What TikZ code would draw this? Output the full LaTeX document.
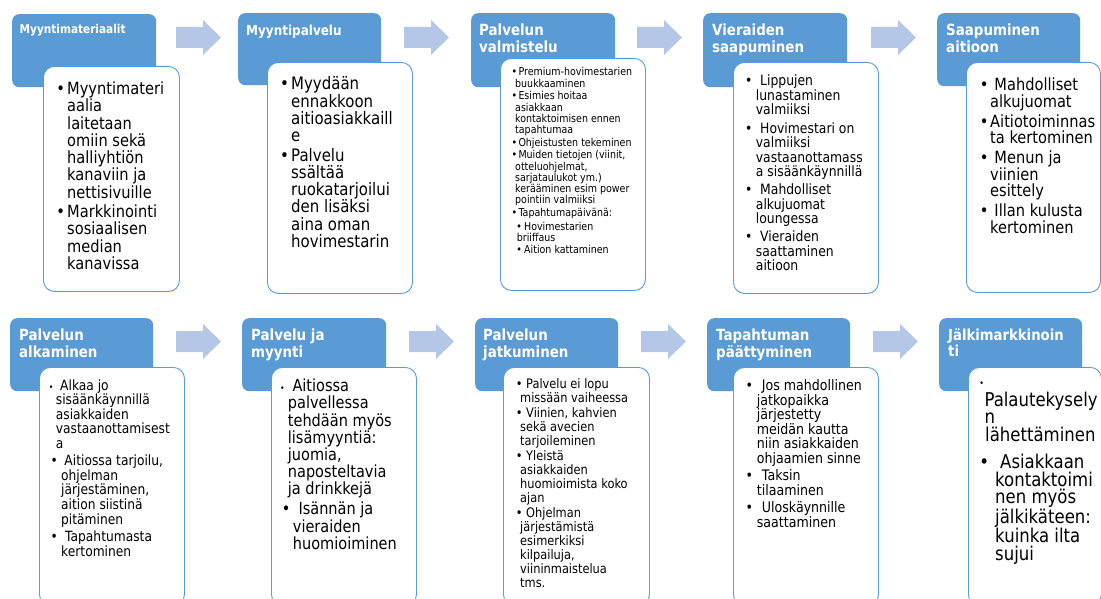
\documentclass[tikz,border=0pt]{standalone}
\usepackage{fontspec}
\setmainfont{DejaVu Sans}[FakeStretch=0.87]
\definecolor{hdrblue}{HTML}{5B9BD5}
\definecolor{arrblue}{HTML}{B4C7E7}
\definecolor{bdrblue}{HTML}{5B9BD5}
\newcommand\fsz[2]{\fontsize{#1pt}{#2pt}\selectfont}
\newcommand\blk[2]{\begin{minipage}[t]{#1pt}\raggedright #2\end{minipage}}
\newcommand\bu[1]{\makebox[#1pt][l]{•}}
\newcommand\bsm[1]{\makebox[#1pt][l]{\fontsize{9pt}{9pt}\selectfont •}}
\newcommand\ind[1]{\hspace*{#1pt}}
\tikzset{
  hdrbox/.style={rectangle, fill=hdrblue, rounded corners=7pt, inner sep=0pt, anchor=north west},
  bodybox/.style={rectangle, fill=white, draw=bdrblue, line width=0.9pt, rounded corners=11pt, inner sep=0pt, anchor=north west},
  htxt/.style={anchor=base west, inner sep=0pt, text=white, font=\bfseries},
  btxt/.style={anchor=base west, inner sep=0pt, text=black},
  blockarrow/.pic={\fill[arrblue] (0,-10.5) -- (27,-10.5) -- (27,-17.5) -- (45,0) -- (27,17.5) -- (27,10.5) -- (0,10.5) -- cycle;}
}
\begin{document}
\begin{tikzpicture}[x=1pt,y=-1pt]
\useasboundingbox (0,0) rectangle (1101,599);
\clip (0,0) rectangle (1101,599);
\fill[white] (0,0) rectangle (1101,599);
% ---------- top row ----------
\node[hdrbox, minimum width=144pt, minimum height=73pt] (h1) at (12,14) {};
\node[hdrbox, minimum width=143pt, minimum height=72pt] (h2) at (238,13) {};
\node[hdrbox, minimum width=144pt, minimum height=74pt] (h3) at (471,13) {};
\node[hdrbox, minimum width=144pt, minimum height=74pt] (h4) at (703,13) {};
\node[hdrbox, minimum width=143pt, minimum height=73pt] (h5) at (937,13) {};
\node[bodybox, minimum width=136pt, minimum height=225pt] (b1) at (43,66) {};
\node[bodybox, minimum width=145pt, minimum height=231pt] (b2) at (267,62) {};
\node[bodybox, minimum width=145pt, minimum height=232pt] (b3) at (500,58) {};
\node[bodybox, minimum width=145pt, minimum height=231pt] (b4) at (733,62) {};
\node[bodybox, minimum width=134pt, minimum height=230pt] (b5) at (966,62) {};
\pic at (176,37.5) {blockarrow};
\pic at (404,37.5) {blockarrow};
\pic at (637,37.5) {blockarrow};
\pic at (871,37.5) {blockarrow};
% ---------- bottom row ----------
\node[hdrbox, minimum width=143pt, minimum height=73pt] (h6) at (10,318) {};
\node[hdrbox, minimum width=144pt, minimum height=73pt] (h7) at (242,318) {};
\node[hdrbox, minimum width=143pt, minimum height=73pt] (h8) at (475,318) {};
\node[hdrbox, minimum width=143pt, minimum height=73pt] (h9) at (707,318) {};
\node[hdrbox, minimum width=143pt, minimum height=73pt] (h10) at (939,318) {};
\node[bodybox, minimum width=145pt, minimum height=238pt] (b6) at (39,367) {};
\node[bodybox, minimum width=145pt, minimum height=238pt] (b7) at (271,367) {};
\node[bodybox, minimum width=146pt, minimum height=238pt] (b8) at (503,367) {};
\node[bodybox, minimum width=145pt, minimum height=238pt] (b9) at (733,367) {};
\node[bodybox, minimum width=133pt, minimum height=238pt] (b10) at (968,367) {};
\pic at (176,341.5) {blockarrow};
\pic at (409,341.5) {blockarrow};
\pic at (641,341.5) {blockarrow};
\pic at (873,341.5) {blockarrow};
% ---------- header texts ----------
\node[htxt] (ht1) at (19.5,33.5) {\fsz{12.1}{14}\blk{140}{Myyntimateriaalit}};
\node[htxt] (ht2) at (246,35.5) {\fsz{13.8}{16}\blk{140}{Myyntipalvelu}};
\node[htxt] (ht3) at (479,35.7) {\fsz{15.4}{16.7}\blk{140}{Palvelun\\valmistelu}};
\node[htxt] (ht4) at (712,35.7) {\fsz{15.4}{16.7}\blk{140}{Vieraiden\\saapuminen}};
\node[htxt] (ht5) at (946,35.7) {\fsz{15.4}{16.7}\blk{140}{Saapuminen\\aitioon}};
\node[htxt] (ht6) at (19,340.7) {\fsz{15.4}{16.5}\blk{140}{Palvelun\\alkaminen}};
\node[htxt] (ht7) at (251,340.7) {\fsz{15.4}{16.5}\blk{140}{Palvelu ja\\myynti}};
\node[htxt] (ht8) at (483,340.5) {\fsz{15.4}{16.5}\blk{140}{Palvelun\\jatkuminen}};
\node[htxt] (ht9) at (716,340.5) {\fsz{15.4}{16.5}\blk{140}{Tapahtuman\\päättyminen}};
\node[htxt] (ht10) at (948,340) {\fsz{15.2}{16.7}\blk{140}{Jälkimarkkinoin\\ti}};
% ---------- body texts, top row ----------
\node[btxt] (t1) at (56.1,94.5) {\fsz{16.8}{17.3}\blk{200}{%
\bu{10.9}Myyntimateri\\ \ind{10.9}aalia\\ \ind{10.9}laitetaan\\ \ind{10.9}omiin sekä\\ \ind{10.9}halliyhtiön\\ \ind{10.9}kanaviin ja\\ \ind{10.9}nettisivuille\\[2pt]
\bu{10.9}Markkinointi\\ \ind{10.9}sosiaalisen\\ \ind{10.9}median\\ \ind{10.9}kanavissa}};
\node[btxt] (t2) at (279.8,90) {\fsz{17.2}{17.2}\blk{200}{%
\bu{11.2}Myydään\\ \ind{11.2}ennakkoon\\ \ind{11.2}aitioasiakkaill\\ \ind{11.2}e\\[2.5pt]
\bu{11.2}Palvelu\\ \ind{11.2}ssältää\\ \ind{11.2}ruokatarjoilui\\ \ind{11.2}den lisäksi\\ \ind{11.2}aina oman\\ \ind{11.2}hovimestarin}};
\node[btxt] (t3) at (511.5,76) {\fsz{10.9}{11.2}\blk{200}{%
\bu{6.8}Premium-hovimestarien\\ \ind{3.5}buukkaaminen\\[1.5pt]
\bu{6.8}Esimies hoitaa\\ \ind{3.5}asiakkaan\\ \ind{3.5}kontaktoimisen ennen\\ \ind{3.5}tapahtumaa\\[1.5pt]
\bu{6.8}Ohjeistusten tekeminen\\[1.5pt]
\bu{6.8}Muiden tietojen (viinit,\\ \ind{3.5}otteluohjelmat,\\ \ind{3.5}sarjataulukot ym.)\\ \ind{3.5}kerääminen esim power\\ \ind{3.5}pointiin valmiiksi\\[1.5pt]
\bu{6.8}Tapahtumapäivänä:\\[2.5pt]
\ind{4.7}\bu{7.8}Hovimestarien\\ \ind{5.2}briiffaus\\[1.5pt]
\ind{4.7}\bu{7.8}Aition kattaminen}};
\node[btxt] (t4) at (745,86) {\fsz{14.25}{14.5}\blk{200}{%
\bu{15}Lippujen\\ \ind{10.7}lunastaminen\\ \ind{10.7}valmiiksi\\[3.6pt]
\bu{15}Hovimestari on\\ \ind{10.7}valmiiksi\\ \ind{10.7}vastaanottamass\\ \ind{10.7}a sisäänkäynnillä\\[3.6pt]
\bu{15}Mahdolliset\\ \ind{10.7}alkujuomat\\ \ind{10.7}loungessa\\[3.6pt]
\bu{15}Vieraiden\\ \ind{10.7}saattaminen\\ \ind{10.7}aitioon}};
\node[btxt] (t5) at (979.6,90.7) {\fsz{16.8}{16.5}\blk{200}{%
\bu{14.7}Mahdolliset\\ \ind{10.4}alkujuomat\\[3.5pt]
\bu{10.4}Aitiotoiminnas\\ \ind{10.4}ta kertominen\\[3.5pt]
\bu{14.7}Menun ja\\ \ind{10.4}viinien\\ \ind{10.4}esittely\\[3.5pt]
\bu{14.7}Illan kulusta\\ \ind{10.4}kertominen}};
% ---------- body texts, bottom row ----------
\node[btxt] (t6) at (48.6,390) {\fsz{14.1}{14.6}\blk{200}{%
\bsm{11.4}Alkaa jo\\ \ind{7.1}sisäänkäynnillä\\ \ind{7.1}asiakkaiden\\ \ind{7.1}vastaanottamisest\\ \ind{7.1}a\\[2.7pt]
\ind{1.7}\bu{14}Aitiossa tarjoilu,\\ \ind{12.4}ohjelman\\ \ind{12.4}järjestäminen,\\ \ind{12.4}aition siistinä\\ \ind{12.4}pitäminen\\[2.7pt]
\ind{1.7}\bu{14.7}Tapahtumasta\\ \ind{12.4}kertominen}};
\node[btxt] (t7) at (280,391.7) {\fsz{16.7}{17.2}\blk{200}{%
\bsm{12.3}Aitiossa\\ \ind{7.7}palvellessa\\ \ind{7.7}tehdään myös\\ \ind{7.7}lisämyyntiä:\\ \ind{7.7}juomia,\\ \ind{7.7}naposteltavia\\ \ind{7.7}ja drinkkejä\\[2.8pt]
\ind{1.65}\bu{16.65}Isännän ja\\ \ind{12.7}vieraiden\\ \ind{12.7}huomioiminen}};
\node[btxt] (t8) at (515.6,388.3) {\fsz{13.1}{14}\blk{200}{%
\bu{10.4}Palvelu ei lopu\\ \ind{4.4}missään vaiheessa\\[1pt]
\bu{10.4}Viinien, kahvien\\ \ind{4.4}sekä avecien\\ \ind{4.4}tarjoileminen\\[1pt]
\bu{10.4}Yleistä\\ \ind{4.4}asiakkaiden\\ \ind{4.4}huomioimista koko\\ \ind{4.4}ajan\\[1pt]
\bu{10.4}Ohjelman\\ \ind{4.4}järjestämistä\\ \ind{4.4}esimerkiksi\\ \ind{4.4}kilpailuja,\\ \ind{4.4}viininmaistelua\\ \ind{4.4}tms.}};
\node[btxt] (t9) at (745.5,390.7) {\fsz{14.5}{14.5}\blk{200}{%
\bu{16.2}Jos mahdollinen\\ \ind{11.2}jatkopaikka\\ \ind{11.2}järjestetty\\ \ind{11.2}meidän kautta\\ \ind{11.2}niin asiakkaiden\\ \ind{11.2}ohjaamien sinne\\[3pt]
\bu{16.2}Taksin\\ \ind{11.2}tilaaminen\\[3pt]
\bu{16.2}Uloskäynnille\\ \ind{11.2}saattaminen}};
\node[btxt, anchor=center] (t10a) at (981.7,384) {\fontsize{9pt}{9pt}\selectfont •};
\node[btxt] (t10) at (979.1,406) {\fsz{19}{17.8}\blk{200}{%
\ind{5.2}Palautekysely\\ \ind{5.2}n\\ \ind{5.9}lähettäminen\\[8.9pt]
\bu{20.9}Asiakkaan\\ \ind{15.9}kontaktoimi\\ \ind{15.9}nen myös\\ \ind{15.9}jälkikäteen:\\ \ind{15.9}kuinka ilta\\ \ind{15.9}sujui}};
\end{tikzpicture}
\end{document}
